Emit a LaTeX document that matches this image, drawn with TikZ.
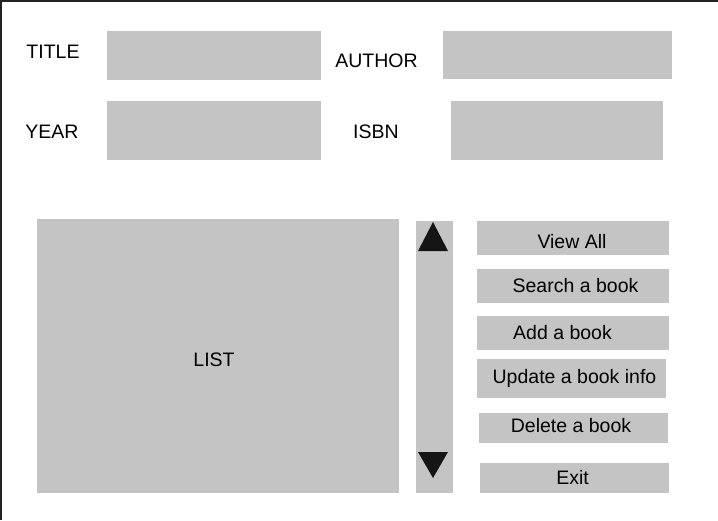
\documentclass[tikz,border=0pt]{standalone}
\usepackage{fontspec}
\setmainfont{Liberation Sans}
\begin{document}
\begin{tikzpicture}[x=1pt,y=-1pt,
  gbox/.style={fill=boxgray,draw=none,inner sep=0pt,outer sep=0pt},
  lbl/.style={anchor=base,inner sep=0pt,font=\fontsize{19.5}{22}\selectfont,text=black}]
\definecolor{boxgray}{HTML}{C4C4C4}
\definecolor{framec}{HTML}{222222}
\definecolor{arrowc}{HTML}{151515}
\useasboundingbox (0,0) rectangle (718,520);
\fill[white] (0,0) rectangle (718,520);
% frame (left and top)
\draw[framec,line width=2pt] (1,520) -- (1,1) -- (718,1);
% input fields
\node[gbox,minimum width=214pt,minimum height=49pt] (titlebox) at (214,55.5) {};
\node[gbox,minimum width=214pt,minimum height=59pt] (yearbox) at (214,130.5) {};
\node[gbox,minimum width=229pt,minimum height=48pt] (authorbox) at (557.5,55) {};
\node[gbox,minimum width=212pt,minimum height=59pt] (isbnbox) at (557,130.5) {};
\node[lbl] (title) at (53,58) {TITLE};
\node[lbl] (year) at (52,138) {YEAR};
\node[lbl] (author) at (376.5,67) {AUTHOR};
\node[lbl] (isbn) at (376,138) {ISBN};
% list
\node[gbox,minimum width=362pt,minimum height=274pt] (listbox) at (218,356) {};
\node[lbl] (list) at (214,366) {LIST};
% scrollbar
\node[gbox,minimum width=37pt,minimum height=272pt] (scroll) at (434.5,357) {};
\fill[arrowc] (418,251) -- (448,251) -- (433,222) -- cycle;
\fill[arrowc] (418,452) -- (448,452) -- (433,478) -- cycle;
% buttons
\node[gbox,minimum width=192pt,minimum height=34pt] (viewbox) at (573,238) {};
\node[gbox,minimum width=192pt,minimum height=34pt] (searchbox) at (573,286) {};
\node[gbox,minimum width=192pt,minimum height=34pt] (addbox) at (573,333) {};
\node[gbox,minimum width=189pt,minimum height=39pt] (updatebox) at (571.5,378.5) {};
\node[gbox,minimum width=189pt,minimum height=30pt] (deletebox) at (573.5,428) {};
\node[gbox,minimum width=189pt,minimum height=30pt] (exitbox) at (574.5,478) {};
\node[lbl] (view) at (572,248) {View All};
\node[lbl] (search) at (575.5,292) {Search a book};
\node[lbl] (add) at (562.5,339) {Add a book};
\node[lbl] (update) at (574.5,383) {Update a book info};
\node[lbl] (delete) at (571,432) {Delete a book};
\node[lbl] (exit) at (572.5,484) {Exit};
\end{tikzpicture}
\end{document}
